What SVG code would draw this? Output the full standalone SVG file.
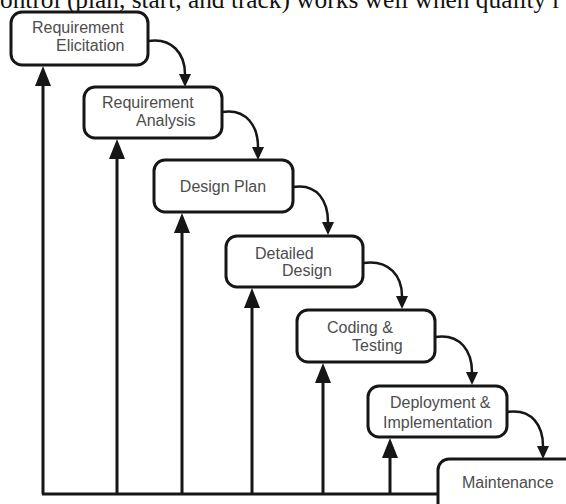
<svg xmlns="http://www.w3.org/2000/svg" width="566" height="504" viewBox="0 0 566 504">
  <style>
    .box { fill: #ffffff; stroke: #161616; stroke-width: 3; }
    .lbl { font-family: "Liberation Sans", Arial, sans-serif; font-size: 16px; fill: #4d4d4d; }
    .flow { fill: none; stroke: #161616; stroke-width: 2.5; }
    .back { fill: none; stroke: #161616; stroke-width: 3; }
    .head { fill: #161616; }
    .caption { font-family: "Liberation Serif", "Times New Roman", serif; font-size: 25px; fill: #111111; }
  </style>
  <defs>
    <marker id="flowHead" markerUnits="userSpaceOnUse" markerWidth="16" markerHeight="16" refX="0" refY="6" orient="auto">
      <path d="M0,0 L13,6 L0,12 z" class="head"/>
    </marker>
  </defs>

  <rect width="566" height="504" fill="#ffffff"/>

  <!-- running text line above the figure, clipped at the top edge -->
  <text class="caption" x="0" y="8" textLength="561" lengthAdjust="spacingAndGlyphs">ontrol (plan, start, and track) works well when quality r</text>

  <!-- feedback lines and forward connectors -->
  <g id="connectors">
    <!-- common return rail -->
    <path class="back" d="M42,494 H438"/>
    <!-- risers back to each phase -->
    <path class="back" d="M43,494 V84"/>
    <path class="back" d="M117,494 V157"/>
    <path class="back" d="M182,494 V231"/>
    <path class="back" d="M252,494 V306"/>
    <path class="back" d="M323,494 V381"/>
    <path class="back" d="M390,494 V456"/>
    <polygon class="head" points="43,66 35,86 51,86"/>
    <polygon class="head" points="117,139 109,159 125,159"/>
    <polygon class="head" points="182,213 174,233 190,233"/>
    <polygon class="head" points="252,288 244,308 260,308"/>
    <polygon class="head" points="323,363 315,383 331,383"/>
    <polygon class="head" points="390,438 382,458 398,458"/>
    <!-- forward flow between phases -->
    <path class="flow" marker-end="url(#flowHead)" d="M148,41 C172,37 185,54 185,74"/>
    <path class="flow" marker-end="url(#flowHead)" d="M222,112 C247,108 258,127 258,147"/>
    <path class="flow" marker-end="url(#flowHead)" d="M293,187 C318,183 328,202 328,222"/>
    <path class="flow" marker-end="url(#flowHead)" d="M363,263 C390,259 402,277 402,296"/>
    <path class="flow" marker-end="url(#flowHead)" d="M435,337 C461,333 472,352 472,372"/>
    <path class="flow" marker-end="url(#flowHead)" d="M507,412 C533,408 543,427 543,446"/>
  </g>

  <g id="elicitation">
    <rect class="box" x="11" y="12" width="137" height="53" rx="11"/>
    <text class="lbl" x="32" y="33">Requirement</text>
    <text class="lbl" x="56" y="51">Elicitation</text>
  </g>

  <g id="analysis">
    <rect class="box" x="84" y="87" width="138" height="51" rx="11"/>
    <text class="lbl" x="102" y="108">Requirement</text>
    <text class="lbl" x="136" y="126">Analysis</text>
  </g>

  <g id="design-plan">
    <rect class="box" x="154" y="160" width="139" height="52" rx="11"/>
    <text class="lbl" x="223" y="192" text-anchor="middle">Design Plan</text>
  </g>

  <g id="detailed-design">
    <rect class="box" x="226" y="236" width="137" height="51" rx="11"/>
    <text class="lbl" x="255" y="259">Detailed</text>
    <text class="lbl" x="282" y="276">Design</text>
  </g>

  <g id="coding-testing">
    <rect class="box" x="297" y="310" width="138" height="52" rx="11"/>
    <text class="lbl" x="327" y="333">Coding &amp;</text>
    <text class="lbl" x="352" y="351">Testing</text>
  </g>

  <g id="deployment">
    <rect class="box" x="368" y="386" width="139" height="51" rx="11"/>
    <text class="lbl" x="390" y="408">Deployment &amp;</text>
    <text class="lbl" x="383" y="428">Implementation</text>
  </g>

  <g id="maintenance">
    <rect class="box" x="438" y="459" width="150" height="60" rx="11"/>
    <text class="lbl" x="462" y="488">Maintenance</text>
  </g>
</svg>
